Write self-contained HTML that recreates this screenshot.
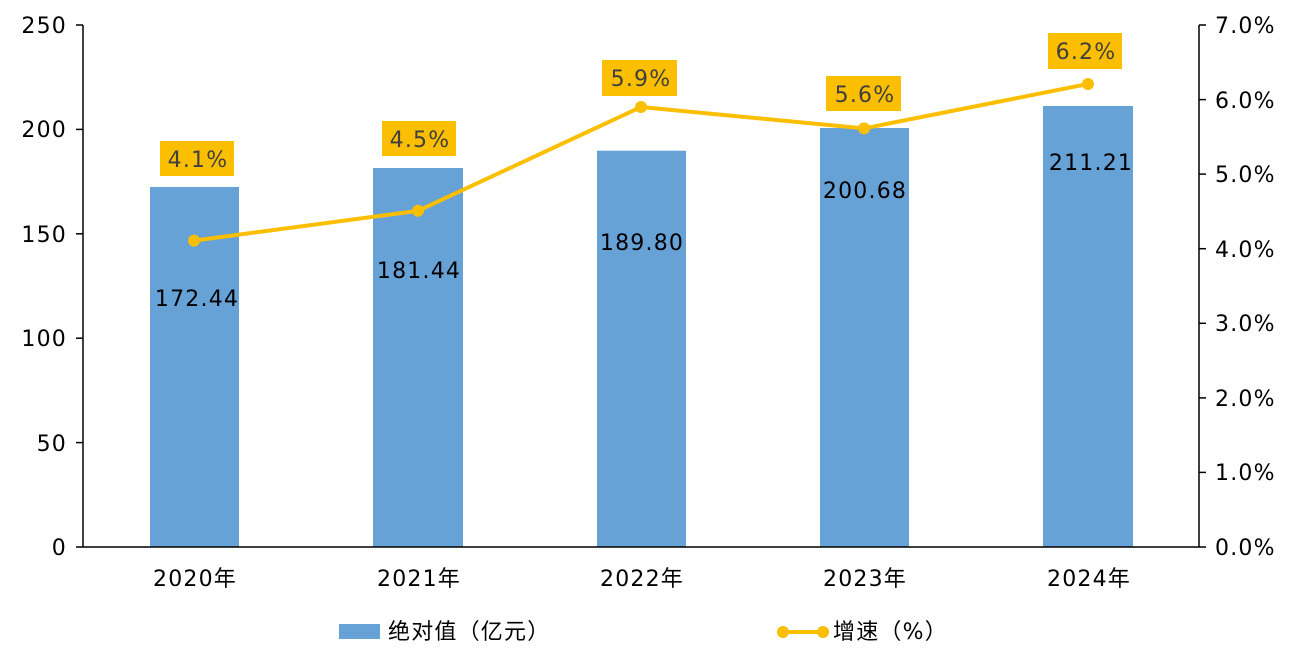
<!DOCTYPE html>
<html><head><meta charset="utf-8"><style>
html,body{margin:0;padding:0;background:#fff;}
svg text{font-family:"DejaVu Sans","Noto Sans CJK SC",sans-serif;letter-spacing:1.2px;}
</style></head><body>
<svg width="1296" height="654" viewBox="0 0 1296 654" xmlns="http://www.w3.org/2000/svg">
<g fill="#67A2D7">
<rect x="150" y="187" width="89" height="360"/>
<rect x="373" y="168" width="90" height="379"/>
<rect x="597" y="150.7" width="89" height="396.3"/>
<rect x="820" y="128" width="89" height="419"/>
<rect x="1043" y="106" width="90" height="441"/>
</g>
<g stroke="#000" stroke-width="1.5" fill="none">
<line x1="83" y1="25" x2="83" y2="547"/>
<line x1="1199" y1="25" x2="1199" y2="547"/>
<line x1="83" y1="547" x2="1199" y2="547"/>
<line x1="76" y1="25" x2="83" y2="25"/><line x1="76" y1="129.4" x2="83" y2="129.4"/><line x1="76" y1="233.8" x2="83" y2="233.8"/><line x1="76" y1="338.2" x2="83" y2="338.2"/><line x1="76" y1="442.6" x2="83" y2="442.6"/><line x1="76" y1="547" x2="83" y2="547"/>
<line x1="1199" y1="25" x2="1206" y2="25"/><line x1="1199" y1="99.6" x2="1206" y2="99.6"/><line x1="1199" y1="174.1" x2="1206" y2="174.1"/><line x1="1199" y1="248.7" x2="1206" y2="248.7"/><line x1="1199" y1="323.3" x2="1206" y2="323.3"/><line x1="1199" y1="397.9" x2="1206" y2="397.9"/><line x1="1199" y1="472.4" x2="1206" y2="472.4"/><line x1="1199" y1="547" x2="1206" y2="547"/>
</g>
<g font-size="22" fill="#000" text-anchor="end">
<text x="67" y="33">250</text><text x="67" y="137">200</text><text x="67" y="242">150</text><text x="67" y="346">100</text><text x="67" y="451">50</text><text x="67" y="555">0</text>
</g>
<g font-size="22" fill="#000" text-anchor="start">
<text x="1215" y="33">7.0%</text><text x="1215" y="108">6.0%</text><text x="1215" y="182">5.0%</text><text x="1215" y="257">4.0%</text><text x="1215" y="331">3.0%</text><text x="1215" y="406">2.0%</text><text x="1215" y="480">1.0%</text><text x="1215" y="555">0.0%</text>
</g>
<g font-size="22" fill="#000" text-anchor="middle">
<text x="195" y="586">2020年</text><text x="419" y="586">2021年</text><text x="642" y="586">2022年</text><text x="865" y="586">2023年</text><text x="1089" y="586">2024年</text>
<text x="197" y="306">172.44</text><text x="419" y="278">181.44</text><text x="642" y="250">189.80</text><text x="865" y="198">200.68</text><text x="1091" y="170">211.21</text>
</g>
<polyline points="194,240.6 418,210.8 641,107 864,128.4 1088,84" fill="none" stroke="#FBBF00" stroke-width="4"/>
<g fill="#FBBF00">
<circle cx="194" cy="240.6" r="6"/><circle cx="418" cy="210.8" r="6"/><circle cx="641" cy="107" r="6"/><circle cx="864" cy="128.4" r="6"/><circle cx="1088" cy="84" r="6"/>
<rect x="160" y="141" width="74" height="35"/><rect x="382" y="121" width="74" height="35"/><rect x="602" y="60" width="75" height="36"/><rect x="826" y="76" width="75" height="35"/><rect x="1048" y="33" width="74" height="36"/>
</g>
<g font-size="22" fill="#404040" text-anchor="middle">
<text x="198" y="167">4.1%</text><text x="420" y="147">4.5%</text><text x="641" y="86">5.9%</text><text x="865" y="102">5.6%</text><text x="1086" y="59">6.2%</text>
</g>
<rect x="339" y="624" width="41" height="15" fill="#67A2D7"/>
<text x="388" y="639" font-size="22" fill="#000">绝对值（亿元）</text>
<line x1="783" y1="632" x2="823" y2="632" stroke="#FBBF00" stroke-width="4"/>
<circle cx="783" cy="632" r="6" fill="#FBBF00"/><circle cx="823" cy="632" r="6" fill="#FBBF00"/>
<text x="833" y="639" font-size="22" fill="#000">增速（%）</text>
</svg>
</body></html>
